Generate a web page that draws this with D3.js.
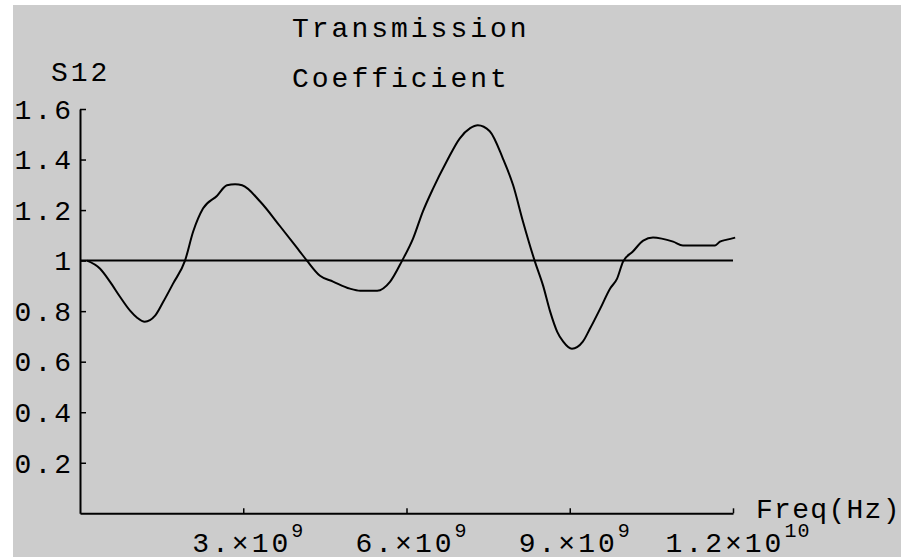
<!DOCTYPE html>
<html>
<head>
<meta charset="utf-8">
<script src="https://cdn.jsdelivr.net/npm/d3@7"></script>
<style>
  html, body { margin: 0; padding: 0; background: #ffffff; }
  svg { display: block; }
  text { font-family: "Liberation Mono", "DejaVu Sans Mono", monospace; fill: #000; }
</style>
</head>
<body>
<svg id="chart" width="901" height="557"></svg>
<script>
// ---- data (frequency in units of 1e9 Hz) ----
const freqGHz = [0.13, 0.37, 0.55, 0.735, 0.92, 1.05, 1.19, 1.38, 1.53, 1.71, 1.93, 2.08, 2.26, 2.52, 2.70, 2.85, 2.98,
  3.31, 3.68, 4.04, 4.17, 4.41, 4.65, 4.96, 5.15, 5.46, 5.70, 5.92, 6.12, 6.30, 6.49, 6.74, 6.98, 7.17, 7.31, 7.53,
  7.77, 7.96, 8.14, 8.36, 8.51, 8.64, 8.77, 8.88, 9.04, 9.24, 9.37, 9.56, 9.74, 9.87, 9.98, 10.16, 10.35, 10.53,
  10.69, 10.90, 11.08, 11.39, 11.67, 11.76, 11.89, 12.04];
const s12 = [1.0, 0.968, 0.917, 0.857, 0.802, 0.774, 0.758, 0.782, 0.837, 0.909, 1.0, 1.115, 1.206, 1.257, 1.298, 1.302, 1.298,
  1.234, 1.135, 1.036, 1.0, 0.940, 0.917, 0.889, 0.881, 0.881, 0.917, 1.0, 1.087, 1.194, 1.286, 1.393, 1.484, 1.524, 1.536, 1.512,
  1.405, 1.298, 1.155, 0.996, 0.901, 0.798, 0.718, 0.679, 0.651, 0.679, 0.730, 0.810, 0.889, 0.929, 0.996, 1.036, 1.079, 1.091,
  1.087, 1.075, 1.060, 1.060, 1.060, 1.075, 1.083, 1.091];
const refLevel = 1;
const yTickValues = [0.2, 0.4, 0.6, 0.8, 1.0, 1.2, 1.4, 1.6];
const yTickLabels = ["0.2", "0.4", "0.6", "0.8", "1", "1.2", "1.4", "1.6"];
const xTickValues = [3, 6, 9, 12];
const xTickMantissa = ["3.", "6.", "9.", "1.2"];
const xTickExponent = ["9", "9", "9", "10"];
const titleLines = ["Transmission", "Coefficient"];
const yAxisLabel = "S12";
const xAxisLabel = "Freq(Hz)";

// ---- layout ----
const FS = 28, LS = 3;
const svg = d3.select("#chart");
const bg = { x: 13, y: 5, w: 888, h: 552 };

svg.append("defs").append("clipPath").attr("id", "bgclip")
  .append("rect").attr("x", bg.x).attr("y", bg.y).attr("width", bg.w).attr("height", bg.h);

const root = svg.append("g").attr("clip-path", "url(#bgclip)");
root.append("rect").attr("x", bg.x).attr("y", bg.y).attr("width", bg.w).attr("height", bg.h).attr("fill", "#cccccc");

const x = d3.scaleLinear().domain([0, 12]).range([80, 733]);
const y = d3.scaleLinear().domain([0, 1.6]).range([513.3, 109]);

// reference line at 1
root.append("line")
  .attr("x1", x(0)).attr("x2", x(12))
  .attr("y1", y(refLevel)).attr("y2", y(refLevel))
  .attr("stroke", "#000").attr("stroke-width", 2);

// y axis
const yAxis = d3.axisLeft(y)
  .tickValues(yTickValues)
  .tickFormat((d, i) => yTickLabels[i])
  .tickSizeInner(-6).tickSizeOuter(0).tickPadding(6);
const gy = root.append("g").attr("transform", `translate(${x(0)},0)`).call(yAxis);
gy.select(".domain").attr("stroke", "#000").attr("stroke-width", 2);
gy.selectAll(".tick line").attr("stroke", "#000").attr("stroke-width", 1.5);
gy.selectAll(".tick text").attr("font-size", FS).attr("letter-spacing", LS)
  .attr("font-family", null).attr("fill", "#000").attr("dy", "0.33em");

// x axis
const xAxis = d3.axisBottom(x)
  .tickValues(xTickValues)
  .tickFormat("")
  .tickSizeInner(-5).tickSizeOuter(0);
const gx = root.append("g").attr("transform", `translate(0,${y(0)})`).call(xAxis);
gx.select(".domain").attr("stroke", "#000").attr("stroke-width", 2);
gx.selectAll(".tick line").attr("stroke", "#000").attr("stroke-width", 1.5);
gx.selectAll(".tick text").remove();

const xl = root.append("g").selectAll("text").data(xTickValues).join("text")
  .attr("x", (d) => x(d) + 5)
  .attr("y", 552)
  .attr("text-anchor", "middle")
  .attr("font-size", FS)
  .attr("letter-spacing", LS);
xl.append("tspan").text((d, i) => xTickMantissa[i] + "\u00d710");
xl.append("tspan").attr("dy", -15).attr("font-size", 20).attr("letter-spacing", 1).text((d, i) => xTickExponent[i]);

// curve
const pts = freqGHz.map((f, i) => [f, s12[i]]);
root.append("path")
  .datum(pts)
  .attr("fill", "none")
  .attr("stroke", "#000")
  .attr("stroke-width", 2)
  .attr("d", d3.line().x(d => x(d[0])).y(d => y(d[1])).curve(d3.curveMonotoneX));

// labels
const label = (t, px, py) => root.append("text").attr("x", px).attr("y", py)
  .attr("font-size", FS).attr("letter-spacing", LS).text(t);
label(titleLines[0], 292, 37);
label(titleLines[1], 292, 87);
label(yAxisLabel, 51, 81);
root.append("text").attr("x", 756).attr("y", 518).attr("font-size", FS).attr("letter-spacing", 1.3).text(xAxisLabel);
</script>
</body>
</html>
